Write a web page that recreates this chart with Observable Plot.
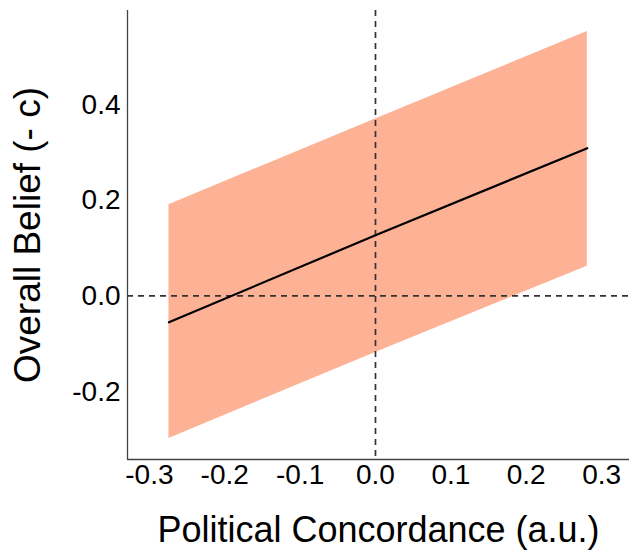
<!DOCTYPE html>
<html><head><meta charset="utf-8">
<script src="https://cdn.jsdelivr.net/npm/d3@7"></script>
<script src="https://cdn.jsdelivr.net/npm/@observablehq/plot@0.6"></script>
<style>
body{margin:0;background:#fff;}
svg{font-family:"Liberation Sans",Arial,sans-serif;}
</style>
</head><body><div id="chart"></div>
<script>
// data
const concordance = [-0.274, 0.0, 0.281];
const fitBelief   = [-0.055, 0.127, 0.309];
const lowerBelief = [-0.298, -0.118, 0.062];
const upperBelief = [0.191, 0.370, 0.553];
const xTicks = [-0.3, -0.2, -0.1, 0.0, 0.1, 0.2, 0.3];
const yTicks = [-0.2, 0.0, 0.2, 0.4];
const xDomain = [-0.329, 0.337];
const yDomain = [-0.342, 0.597];

const rows = concordance.map((x, i) => ({x, fit: fitBelief[i], lo: lowerBelief[i], hi: upperBelief[i]}));
const fmt = d => d.toFixed(1);

const chart = Plot.plot({
  width: 629, height: 551,
  marginLeft: 127, marginRight: 0, marginTop: 10, marginBottom: 92,
  style: {fontFamily: "Liberation Sans, Arial, sans-serif", color: "#000", background: "#fff"},
  x: {domain: xDomain},
  y: {domain: yDomain},
  marks: [
    Plot.areaY(rows, {x: "x", y1: "lo", y2: "hi", fill: "#fdb296", fillOpacity: 1}),
    Plot.ruleY([0], {stroke: "#333", strokeDasharray: "6,5", strokeWidth: 1.7}),
    Plot.ruleX([0], {stroke: "#333", strokeDasharray: "6,5", strokeWidth: 1.7}),
    Plot.lineY(rows, {x: "x", y: "fit", stroke: "#000", strokeWidth: 2.2}),
    Plot.ruleX([xDomain[0]], {stroke: "#444", strokeWidth: 1.3}),
    Plot.ruleY([yDomain[0]], {stroke: "#444", strokeWidth: 1.3}),
    Plot.axisX(xTicks, {tickSize: 0, tickPadding: 5, tickFormat: fmt, fontSize: 28,
      label: "Political Concordance (a.u.)", labelAnchor: "center", labelArrow: "none", labelOffset: 82}),
    Plot.axisY(yTicks, {tickSize: 0, tickPadding: 7, tickFormat: fmt, fontSize: 28,
      label: "Overall Belief (- c)", labelAnchor: "center", labelArrow: "none", labelOffset: 114})
  ]
});
document.getElementById("chart").appendChild(chart);
// font sizes: tick labels 28px, axis titles larger
d3.select(chart).selectAll("text").each(function() {
  const g = this.closest("g[aria-label]");
  const lab = g ? g.getAttribute("aria-label") : "";
  if (lab === "x-axis label") this.style.fontSize = "36px";
  else if (lab === "y-axis label") this.style.fontSize = "37px";
  else this.style.fontSize = "28px";
});
</script></body></html>
